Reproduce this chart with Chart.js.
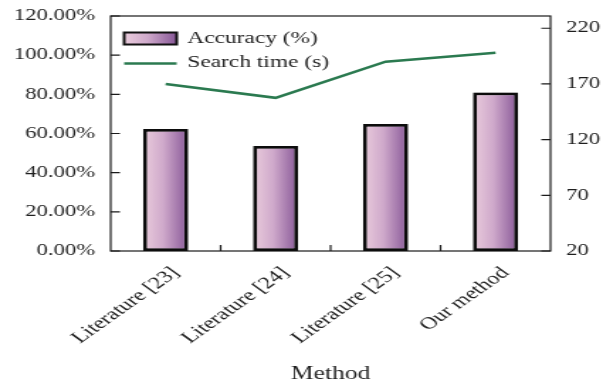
<!DOCTYPE html>
<html><head><meta charset="utf-8">
<script src="https://cdn.jsdelivr.net/npm/chart.js@4.4.0/dist/chart.umd.min.js"></script>
<style>
html,body{margin:0;padding:0;background:#fff;overflow:hidden}
#wrap{width:425px;height:383px;transform:scaleX(1.41882);transform-origin:0 0}
</style></head>
<body>
<div id="wrap"><canvas id="c" width="425" height="383" style="width:425px;height:383px;display:block"></canvas></div>
<script>
// Method comparison: accuracy (bars, left axis) and search time (line, right axis)
const methods = ['Literature [23]', 'Literature [24]', 'Literature [25]', 'Our method'];
const accuracy = [62.3, 53.6, 64.9, 81.0];          // %
const searchTime = [170, 157.5, 190, 198];          // s
const accuracyTicks = [0, 20, 40, 60, 80, 100, 120];
const timeTicks = [20, 70, 120, 170, 220];

const SERIF = '"Liberation Serif", "Times New Roman", serif';
const INK = '#1e1e1e';
const GREEN = '#2b7a50';

// Gradient fill for each bar, from its own left edge to its right edge
const barGradient = {
  id: 'barGradient',
  beforeDatasetsDraw(chart) {
    const meta = chart.getDatasetMeta(0);
    const ctx = chart.ctx;
    meta.data.forEach(el => {
      const {x, width} = el.getProps(['x', 'width'], true);
      const g = ctx.createLinearGradient(x - width / 2, 0, x + width / 2, 0);
      g.addColorStop(0, '#ebcddd');
      g.addColorStop(0.45, '#cfa9cb');
      g.addColorStop(1, '#875797');
      el.options = Object.assign({}, el.options, {backgroundColor: g});
    });
  },
  beforeDatasetDraw(chart, args) {
    if (args.index !== 0) return;
    const ctx = chart.ctx;
    ctx.save();
    ctx.shadowColor = 'rgba(0,0,0,0.35)';
    ctx.shadowBlur = 5;
  },
  afterDatasetDraw(chart, args) {
    if (args.index !== 0) return;
    chart.ctx.restore();
  }
};

// Plot frame and inward tick marks
const frameAndTicks = {
  id: 'frameAndTicks',
  beforeDatasetsDraw(chart) {
    const {ctx, chartArea: a, scales} = chart;
    ctx.save();
    ctx.strokeStyle = '#1a1a1a';
    ctx.lineWidth = 1.2;
    ctx.strokeRect(a.left, a.top, a.right - a.left, a.bottom - a.top);
    ctx.beginPath();
    scales.y.ticks.forEach(t => {
      const py = scales.y.getPixelForValue(t.value);
      ctx.moveTo(a.left, py); ctx.lineTo(a.left + 6.5, py);
    });
    scales.y1.ticks.forEach(t => {
      const py = scales.y1.getPixelForValue(t.value);
      ctx.moveTo(a.right, py); ctx.lineTo(a.right - 6.5, py);
    });
    for (let i = 0; i < methods.length - 1; i++) {
      const px = (scales.x.getPixelForValue(i) + scales.x.getPixelForValue(i + 1)) / 2;
      ctx.moveTo(px, a.bottom); ctx.lineTo(px, a.bottom - 6);
    }
    ctx.stroke();
    ctx.restore();
  }
};

// Legend drawn inside the plot, top-left
const innerLegend = {
  id: 'innerLegend',
  afterDraw(chart) {
    const {ctx, chartArea: a} = chart;
    const ds = chart.data.datasets;
    const x0 = a.left + 9.5, w = 37;
    ctx.save();
    const g = ctx.createLinearGradient(x0, 0, x0 + w, 0);
    g.addColorStop(0, '#ebcddd');
    g.addColorStop(0.45, '#cfa9cb');
    g.addColorStop(1, '#875797');
    ctx.fillStyle = g;
    ctx.fillRect(x0, a.top + 16.5, w, 12);
    ctx.strokeStyle = '#111';
    ctx.lineWidth = 2;
    ctx.strokeRect(x0, a.top + 16.5, w, 12);
    ctx.strokeStyle = GREEN;
    ctx.lineWidth = 2.5;
    ctx.beginPath();
    ctx.moveTo(x0, a.top + 47.5); ctx.lineTo(x0 + w, a.top + 47.5);
    ctx.stroke();
    ctx.fillStyle = INK;
    ctx.font = '16.5px ' + SERIF;
    ctx.textBaseline = 'middle';
    ctx.textAlign = 'left';
    ctx.fillText(ds[0].label, x0 + 44.5, a.top + 22.5);
    ctx.fillText(ds[1].label, x0 + 44.5, a.top + 47);
    ctx.restore();
  }
};

function noPad(s) { s.paddingTop = 0; s.paddingBottom = 0; s.paddingLeft = 0; s.paddingRight = 0; }

new Chart(document.getElementById('c'), {
  data: {
    labels: methods,
    datasets: [
      {
        type: 'bar',
        label: 'Accuracy (%)',
        data: accuracy,
        yAxisID: 'y',
        backgroundColor: () => '#cfa9cb',
        borderColor: '#0d0d0d',
        borderWidth: 2.8,
        borderSkipped: false,
        barPercentage: 0.41,
        categoryPercentage: 1,
        order: 2
      },
      {
        type: 'line',
        label: 'Search time (s)',
        data: searchTime,
        yAxisID: 'y1',
        borderColor: GREEN,
        borderWidth: 2.6,
        pointRadius: 0,
        tension: 0,
        fill: false,
        order: 1
      }
    ]
  },
  options: {
    responsive: false,
    devicePixelRatio: 1,
    animation: false,
    layout: {padding: {top: 16, left: 0, right: 0, bottom: 0}},
    plugins: {legend: {display: false}, tooltip: {enabled: false}},
    scales: {
      x: {
        offset: true,
        grid: {display: false, drawTicks: false},
        border: {display: false},
        ticks: {
          autoSkip: false, minRotation: 45, maxRotation: 45, padding: 12, labelOffset: 7,
          color: INK, font: {family: SERIF, size: 17}
        },
        title: {
          display: true, text: 'Method', color: INK,
          font: {family: SERIF, size: 18, lineHeight: 1}, padding: {top: 0, bottom: 0}
        },
        afterFit(s) { s.height = 132; noPad(s); }
      },
      y: {
        position: 'left',
        min: 0, max: 120,
        grid: {display: false, drawTicks: false},
        border: {display: false},
        afterBuildTicks(s) { s.ticks = accuracyTicks.map(v => ({value: v})); },
        ticks: {
          padding: 11, color: INK, font: {family: SERIF, size: 16},
          callback: v => v.toFixed(2) + '%'
        },
        afterFit(s) { s.width = 78; noPad(s); }
      },
      y1: {
        position: 'right',
        min: 20, max: 231,
        grid: {display: false, drawTicks: false},
        border: {display: false},
        afterBuildTicks(s) { s.ticks = timeTicks.map(v => ({value: v})); },
        ticks: {
          padding: 11, color: INK, font: {family: SERIF, size: 16},
          callback: v => String(v)
        },
        afterFit(s) { s.width = 37; noPad(s); }
      }
    }
  },
  plugins: [frameAndTicks, barGradient, innerLegend]
});
</script>
</body></html>
